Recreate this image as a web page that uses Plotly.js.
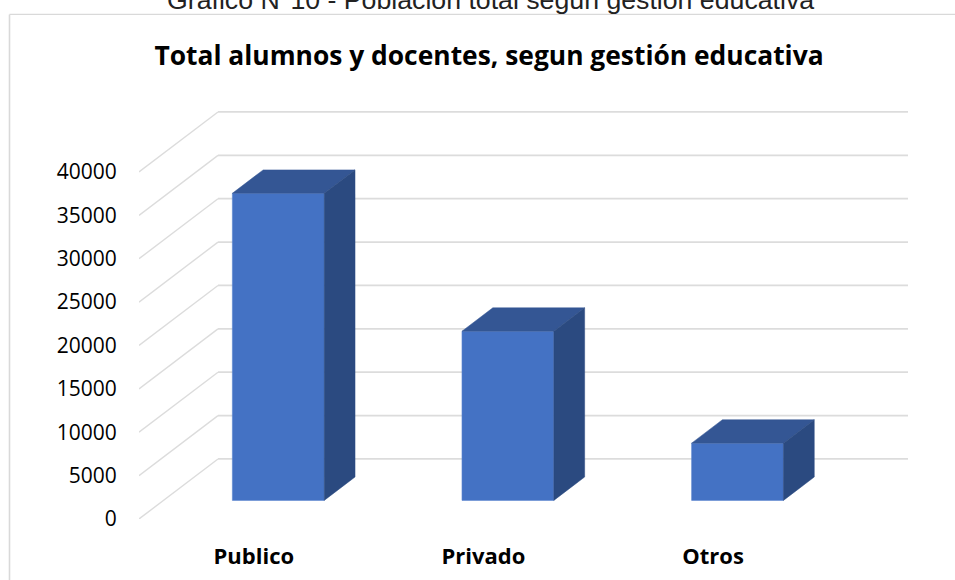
<!DOCTYPE html>
<html><head><meta charset="utf-8">
<script src="https://cdn.plot.ly/plotly-3.0.1.min.js"></script>
<style>html,body{margin:0;padding:0;background:#fff;overflow:hidden}</style>
</head><body><div id="chart" style="width:955px;height:580px"></div>
<script>
const categories = ["Publico", "Privado", "Otros"];
const values = [35400, 19500, 6600];
const yTicks = [0, 5000, 10000, 15000, 20000, 25000, 30000, 35000, 40000];

// oblique projection, in axis units
const wallDx = 0.344, wallDy = 6920;      // shift from front of floor to back wall
const barFront = 0.31, barBack = 0.70;    // depth fractions occupied by a bar
const barWidth = 0.40;
const xRange = [-0.5, 2.849], yRange = [0, 48300];

const FRONT = "#4472c4", TOP = "#345694", SIDE = "#2b4a80", GRID = "#dcdcdc";

const shapes = [];
yTicks.forEach(t => {
  shapes.push({type:"line", layer:"below", xref:"x", yref:"y", x0:-0.5, y0:t, x1:-0.5+wallDx, y1:t+wallDy, line:{color:GRID,width:1.4}});
  shapes.push({type:"line", layer:"below", xref:"x", yref:"y", x0:-0.5+wallDx, y0:t+wallDy, x1:xRange[1], y1:t+wallDy, line:{color:GRID,width:1.8}});
});
// chart frame
shapes.push({type:"line", layer:"below", xref:"paper", yref:"paper", x0:-0.1684, y0:-0.1464, x1:-0.1684, y1:1.2042, line:{color:"#d9d9d9",width:1.6}});
shapes.push({type:"line", layer:"below", xref:"paper", yref:"paper", x0:-0.1684, y0:1.2042, x1:1.0611, y1:1.2042, line:{color:"#d9d9d9",width:1.2}});

const traces = [{
  type:"bar", x:categories.map((c,i)=>i+barFront*wallDx), y:values,
  base:values.map(()=>barFront*wallDy), width:barWidth,
  marker:{color:FRONT, line:{color:"#5b85cf",width:0.6}}, hoverinfo:"skip", showlegend:false
}];
const poly = (xs,ys,color)=>({type:"scatter",mode:"lines",x:xs,y:ys,fill:"toself",fillcolor:color,
  line:{color:color,width:0.5},hoverinfo:"skip",showlegend:false});
values.forEach((v,i)=>{
  const xl=i+barFront*wallDx-barWidth/2, xr=xl+barWidth;
  const d=(barBack-barFront), dx=d*wallDx, dy=d*wallDy, b=barFront*wallDy, t=b+v;
  traces.push(poly([xl,xr,xr+dx,xl+dx,xl],[t,t,t+dy,t+dy,t],TOP));
  traces.push(poly([xr,xr+dx,xr+dx,xr,xr],[b,b+dy,t+dy,t,b],SIDE));
});

const layout = {
  width:955, height:580, margin:{l:139,r:47,t:100,b:61.3,pad:0},
  paper_bgcolor:"#fff", plot_bgcolor:"rgba(0,0,0,0)", showlegend:false, font:{family:"Open Sans",color:"#000"},
  title:{text:"<b>Total alumnos y docentes, segun gestión educativa</b>", font:{family:"Open Sans",size:26.4,color:"#000"},
         x:489/955, xanchor:"center", y:1-56/580, yanchor:"middle"},
  xaxis:{range:xRange, tickmode:"array", tickvals:[0,1,2], ticktext:categories.map(c=>"<b>"+c+"</b>"),
         showgrid:false, zeroline:false, showline:false, ticks:"outside", ticklen:18, tickcolor:"rgba(0,0,0,0)",
         tickfont:{family:"Open Sans",size:22,color:"#000"}, fixedrange:true},
  yaxis:{range:yRange, tickmode:"array", tickvals:yTicks, ticktext:yTicks.map(String),
         showgrid:false, zeroline:false, showline:false, ticks:"outside", ticklen:17, tickcolor:"rgba(0,0,0,0)",
         tickfont:{family:"Open Sans",size:21,color:"#000"}, fixedrange:true},
  shapes:shapes,
  annotations:[{xref:"paper",yref:"paper",x:(490-139)/769,y:1,yshift:100,yanchor:"middle",xanchor:"center",showarrow:false,
    text:"Gráfico N°10 - Población total según gestión educativa",font:{family:"Liberation Sans",size:26.7,color:"#222"}}]
};
Plotly.newPlot("chart",traces,layout,{displayModeBar:false,staticPlot:true});
</script></body></html>
